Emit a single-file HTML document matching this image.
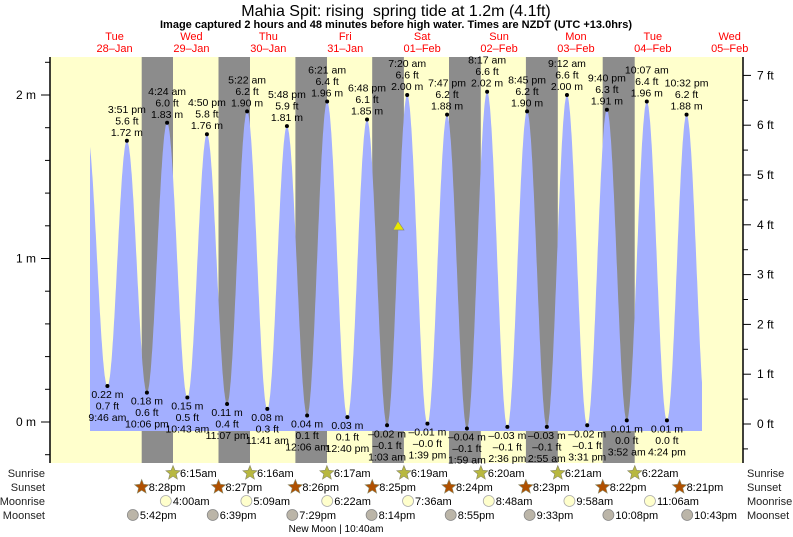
<!DOCTYPE html>
<html><head><meta charset="utf-8"><style>
body{margin:0;background:#fff;}
svg{display:block;font-family:"Liberation Sans",Arial,sans-serif;}
</style></head><body>
<svg id="s" width="793" height="537" viewBox="0 0 793 537" xmlns="http://www.w3.org/2000/svg"></svg>
<script>
var s=document.getElementById('s');var h='';
var X0=153,PH=3.204;function X(t){return X0+PH*t;}
function Ym(m){return 422-163.5*m;}
h+='<rect x="50" y="57" width="693" height="406" fill="#ffffcc"/>';
var sunset=[[-3.53],[20.45],[44.43],[68.42],[92.4],[116.38],[140.37],[164.35]];
var sunrise=[6.25,30.27,54.28,78.32,102.33,126.35,150.37];
for(var i=0;i<sunrise.length;i++){var a=X(sunset[i][0]),b=X(sunrise[i]);h+='<rect x="'+a.toFixed(1)+'" y="57" width="'+(b-a).toFixed(1)+'" height="406" fill="#8c8c8c"/>';}
var ex=[[-20.7,1.78],[-14.23,0.22],[-8.15,1.72],[-1.9,0.18],[4.4,1.83],[10.72,0.15],[16.83,1.76],[23.12,0.11],[29.37,1.90],[35.68,0.08],[41.8,1.81],[48.1,0.04],[54.35,1.96],[60.67,0.03],[66.8,1.85],[73.05,-0.02],[79.33,2.00],[85.65,-0.01],[91.78,1.88],[97.98,-0.04],[104.28,2.02],[110.6,-0.03],[116.75,1.90],[122.92,-0.03],[129.2,2.00],[135.52,-0.02],[141.67,1.91],[147.87,0.01],[154.12,1.96],[160.4,0.01],[166.53,1.88],[172.8,0.0]];
function lv(t){for(var i=0;i<ex.length-1;i++){if(t>=ex[i][0]&&t<=ex[i+1][0]){var f=(t-ex[i][0])/(ex[i+1][0]-ex[i][0]);return ex[i][1]+(ex[i+1][1]-ex[i][1])*(1-Math.cos(Math.PI*f))/2;}}return 0;}
var t0=(90-X0)/PH,t1=(702-X0)/PH;var p='M90,431';
for(var t=t0;t<=t1;t+=0.1){p+=' L'+X(t).toFixed(1)+','+Ym(lv(t)).toFixed(1);}
p+=' L702,'+Ym(lv(t1)).toFixed(1)+' L702,431 Z';
h+='<path d="'+p+'" fill="#a3afff"/>';
h+='<line x1="50" y1="57" x2="50" y2="463" stroke="#000" stroke-width="1.5"/><line x1="743" y1="57" x2="743" y2="463" stroke="#000" stroke-width="1.5"/>';
for(var m=-0.2;m<=2.21;m+=0.2){var y=Ym(m);h+='<line x1="45" x2="50" y1="'+y+'" y2="'+y+'" stroke="#000"/>';}
[[0,'0 m'],[1,'1 m'],[2,'2 m']].forEach(function(a){var y=Ym(a[0]);h+='<line x1="41" x2="50" y1="'+y+'" y2="'+y+'" stroke="#000"/><text x="36" y="'+(y+4)+'" font-size="12" text-anchor="end">'+a[1]+'</text>';});
for(var f=-0.5;f<=7.01;f+=0.5){var y=424-49.8*f;var mj=Math.abs(f-Math.round(f))<0.01;h+='<line x1="743" x2="'+(mj?751:748)+'" y1="'+y+'" y2="'+y+'" stroke="#000"/>';if(mj&&f>=0)h+='<text x="757" y="'+(y+4)+'" font-size="12">'+Math.round(f)+' ft</text>';}
var hi=[[-8.15,'3:51 pm','5.6 ft','1.72 m',1.72],[4.4,'4:24 am','6.0 ft','1.83 m',1.83],[16.83,'4:50 pm','5.8 ft','1.76 m',1.76],[29.37,'5:22 am','6.2 ft','1.90 m',1.9],[41.8,'5:48 pm','5.9 ft','1.81 m',1.81],[54.35,'6:21 am','6.4 ft','1.96 m',1.96],[66.8,'6:48 pm','6.1 ft','1.85 m',1.85],[79.33,'7:20 am','6.6 ft','2.00 m',2],[91.78,'7:47 pm','6.2 ft','1.88 m',1.88],[104.28,'8:17 am','6.6 ft','2.02 m',2.02],[116.75,'8:45 pm','6.2 ft','1.90 m',1.9],[129.2,'9:12 am','6.6 ft','2.00 m',2],[141.67,'9:40 pm','6.3 ft','1.91 m',1.91],[154.12,'10:07 am','6.4 ft','1.96 m',1.96],[166.53,'10:32 pm','6.2 ft','1.88 m',1.88]];
var lo=[[-14.23,'0.22 m','0.7 ft','9:46 am',0.22],[-1.9,'0.18 m','0.6 ft','10:06 pm',0.18],[10.72,'0.15 m','0.5 ft','10:43 am',0.15],[23.12,'0.11 m','0.4 ft','11:07 pm',0.11],[35.68,'0.08 m','0.3 ft','11:41 am',0.08],[48.1,'0.04 m','0.1 ft','12:06 am',0.04],[60.67,'0.03 m','0.1 ft','12:40 pm',0.03],[73.05,'\u20130.02 m','\u20130.1 ft','1:03 am',-0.02],[85.65,'\u20130.01 m','\u20130.0 ft','1:39 pm',-0.01],[97.98,'\u20130.04 m','\u20130.1 ft','1:59 am',-0.04],[110.6,'\u20130.03 m','\u20130.1 ft','2:36 pm',-0.03],[122.92,'\u20130.03 m','\u20130.1 ft','2:55 am',-0.03],[135.52,'\u20130.02 m','\u20130.1 ft','3:31 pm',-0.02],[147.87,'0.01 m','0.0 ft','3:52 am',0.01],[160.4,'0.01 m','0.0 ft','4:24 pm',0.01]];
hi.forEach(function(a){var x=X(a[0]),y=Ym(a[4]);h+='<circle cx="'+x+'" cy="'+y+'" r="2" fill="#000"/>';[a[1],a[2],a[3]].forEach(function(tx,k){h+='<text x="'+x+'" y="'+(y-28+k*11.5)+'" font-size="10.5" text-anchor="middle">'+tx+'</text>';});});
lo.forEach(function(a){var x=X(a[0]),y=Ym(a[4]);h+='<circle cx="'+x+'" cy="'+y+'" r="2" fill="#000"/>';[a[1],a[2],a[3]].forEach(function(tx,k){h+='<text x="'+x+'" y="'+(y+12+k*11.5)+'" font-size="10.5" text-anchor="middle">'+tx+'</text>';});});
h+='<polygon points="398,221 393,230 404,230" fill="#e8e800" stroke="#888" stroke-width="0.7"/>';
h+='<text x="396" y="16" font-size="16" text-anchor="middle">Mahia Spit: rising\u00a0 spring tide at 1.2m (4.1ft)</text>';
h+='<text x="396" y="28" font-size="11" font-weight="bold" text-anchor="middle">Image captured 2 hours and 48 minutes before high water. Times are NZDT (UTC +13.0hrs)</text>';
var days=[['Tue','28\u2013Jan'],['Wed','29\u2013Jan'],['Thu','30\u2013Jan'],['Fri','31\u2013Jan'],['Sat','01\u2013Feb'],['Sun','02\u2013Feb'],['Mon','03\u2013Feb'],['Tue','04\u2013Feb'],['Wed','05\u2013Feb']];
days.forEach(function(d,i){var x=X(-12+24*i);h+='<text x="'+x+'" y="40" font-size="11" fill="#f00" text-anchor="middle">'+d[0]+'</text><text x="'+x+'" y="52" font-size="11" fill="#f00" text-anchor="middle">'+d[1]+'</text>';});
['Sunrise','Sunset','Moonrise','Moonset'].forEach(function(n,i){var y=477+i*14;h+='<text x="45" y="'+y+'" font-size="11" text-anchor="end" fill="#222">'+n+'</text><text x="747" y="'+y+'" font-size="11" fill="#222">'+n+'</text>';});
function star(x,y,c){var pts='';for(var k=0;k<10;k++){var r=k%2?3.3:7.5,a=-Math.PI/2+k*Math.PI/5;pts+=(x+r*Math.cos(a)).toFixed(1)+','+(y+r*Math.sin(a)).toFixed(1)+' ';}return '<polygon points="'+pts+'" fill="'+c+'" stroke="#886" stroke-width="0.6"/>';}
var srt=['6:15am','6:16am','6:17am','6:19am','6:20am','6:21am','6:22am'];
sunrise.forEach(function(t,i){var x=X(t);h+=star(x,473,'#b8b840')+'<text x="'+(x+7)+'" y="477" font-size="11">'+srt[i]+'</text>';});
var sst=['8:28pm','8:27pm','8:26pm','8:25pm','8:24pm','8:23pm','8:22pm','8:21pm'];
sunset.forEach(function(t,i){var x=X(t[0]);h+=star(x,487,'#b05000')+'<text x="'+(x+7)+'" y="491" font-size="11">'+sst[i]+'</text>';});
var mr=[[4,'4:00am'],[29.15,'5:09am'],[54.37,'6:22am'],[79.6,'7:36am'],[104.8,'8:48am'],[129.97,'9:58am'],[155.1,'11:06am']];
mr.forEach(function(a){var x=X(a[0]);h+='<circle cx="'+x+'" cy="501" r="5.5" fill="#ffffcc" stroke="#aaa" stroke-width="0.8"/><text x="'+(x+7)+'" y="505" font-size="11">'+a[1]+'</text>';});
var ms=[[-6.3,'5:42pm'],[18.65,'6:39pm'],[43.48,'7:29pm'],[68.23,'8:14pm'],[92.92,'8:55pm'],[117.55,'9:33pm'],[142.13,'10:08pm'],[166.72,'10:43pm']];
ms.forEach(function(a){var x=X(a[0]);h+='<circle cx="'+x+'" cy="515" r="5.5" fill="#bbb5a8" stroke="#888" stroke-width="0.8"/><text x="'+(x+7)+'" y="519" font-size="11">'+a[1]+'</text>';});
h+='<text x="336" y="532" font-size="10" text-anchor="middle">New Moon | 10:40am</text>';
s.innerHTML=h;
</script>
</body></html>
